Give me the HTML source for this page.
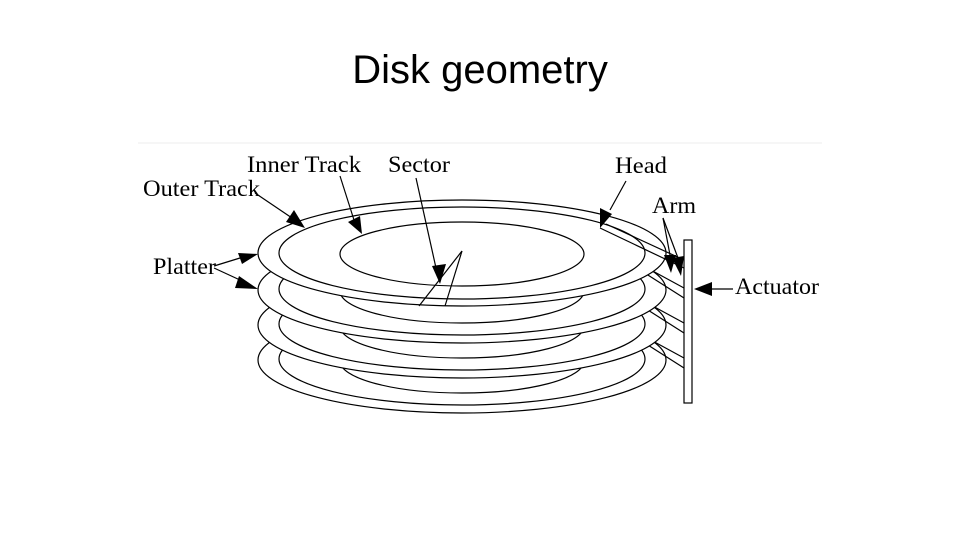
<!DOCTYPE html>
<html><head><meta charset="utf-8"><style>
html,body{margin:0;padding:0;background:#fff;width:960px;height:540px;overflow:hidden}
svg{display:block}
</style></head><body>
<svg width="960" height="540" viewBox="0 0 960 540" xmlns="http://www.w3.org/2000/svg">
<text x="480" y="83" text-anchor="middle" font-family="Liberation Sans, sans-serif" font-size="40" fill="#000">Disk geometry</text>
<line x1="138" y1="143" x2="822" y2="143" stroke="#eee" stroke-width="1"/>
<g fill="#fff" stroke="#000" stroke-width="1.2">
<ellipse cx="462" cy="360" rx="204" ry="53"/>
<ellipse cx="462" cy="359" rx="183" ry="46"/>
<ellipse cx="462" cy="361" rx="122" ry="32"/>
<line x1="638" y1="333" x2="684" y2="358"/><line x1="640" y1="340" x2="684" y2="368"/>
<ellipse cx="462" cy="325" rx="204" ry="53"/>
<ellipse cx="462" cy="324" rx="183" ry="46"/>
<ellipse cx="462" cy="326" rx="122" ry="32"/>
<line x1="638" y1="298" x2="684" y2="323"/><line x1="640" y1="305" x2="684" y2="333"/>
<ellipse cx="462" cy="290" rx="204" ry="53"/>
<ellipse cx="462" cy="289" rx="183" ry="46"/>
<ellipse cx="462" cy="291" rx="122" ry="32"/>
<line x1="638" y1="263" x2="684" y2="288"/><line x1="640" y1="270" x2="684" y2="298"/>
<ellipse cx="462" cy="253" rx="204" ry="53"/>
<ellipse cx="462" cy="253" rx="183" ry="46"/>
<ellipse cx="462" cy="254" rx="122" ry="32"/>
</g>
<g stroke="#000" stroke-width="1.2" fill="none">
<line x1="600" y1="228" x2="684" y2="268"/><line x1="606" y1="224" x2="684" y2="260"/>
<line x1="419" y1="306" x2="462" y2="251"/><line x1="445" y1="306" x2="462" y2="251"/>
<line x1="255" y1="193" x2="292" y2="218"/>
<line x1="340" y1="176" x2="354" y2="220"/>
<line x1="416" y1="178" x2="436" y2="268"/>
<line x1="626" y1="181" x2="610" y2="210"/>
<line x1="663" y1="218" x2="670" y2="255"/><line x1="663" y1="218" x2="678" y2="258"/>
<line x1="214" y1="266" x2="240" y2="258"/><line x1="214" y1="268" x2="240" y2="280"/>
<line x1="733" y1="289" x2="712" y2="289"/>
</g>
<rect x="684" y="240" width="8" height="163" fill="#fff" stroke="#000" stroke-width="1.2"/>
<g fill="#000">
<polygon points="305,228 286,222 294,210"/>
<polygon points="362,234 348,222 360,216"/>
<polygon points="440,284 432,266 446,264"/>
<polygon points="600,228 600,208 612,214"/>
<polygon points="671,273 664,255 676,255"/>
<polygon points="681,276 672,258 684,256"/>
<polygon points="258,254 238,253 242,264"/>
<polygon points="258,289 239,276 235,288"/>
<polygon points="694,289 712,282 712,296"/>
</g>
<g font-family="Liberation Serif, serif" font-size="23" fill="#000">
<text x="247" y="172" textLength="114" lengthAdjust="spacingAndGlyphs">Inner Track</text>
<text x="388" y="172" textLength="62" lengthAdjust="spacingAndGlyphs">Sector</text>
<text x="615" y="173" textLength="52" lengthAdjust="spacingAndGlyphs">Head</text>
<text x="143" y="196" textLength="117" lengthAdjust="spacingAndGlyphs">Outer Track</text>
<text x="652" y="213" textLength="44" lengthAdjust="spacingAndGlyphs">Arm</text>
<text x="153" y="274" textLength="63" lengthAdjust="spacingAndGlyphs">Platter</text>
<text x="735" y="294" textLength="84" lengthAdjust="spacingAndGlyphs">Actuator</text>
</g>
</svg>
</body></html>
